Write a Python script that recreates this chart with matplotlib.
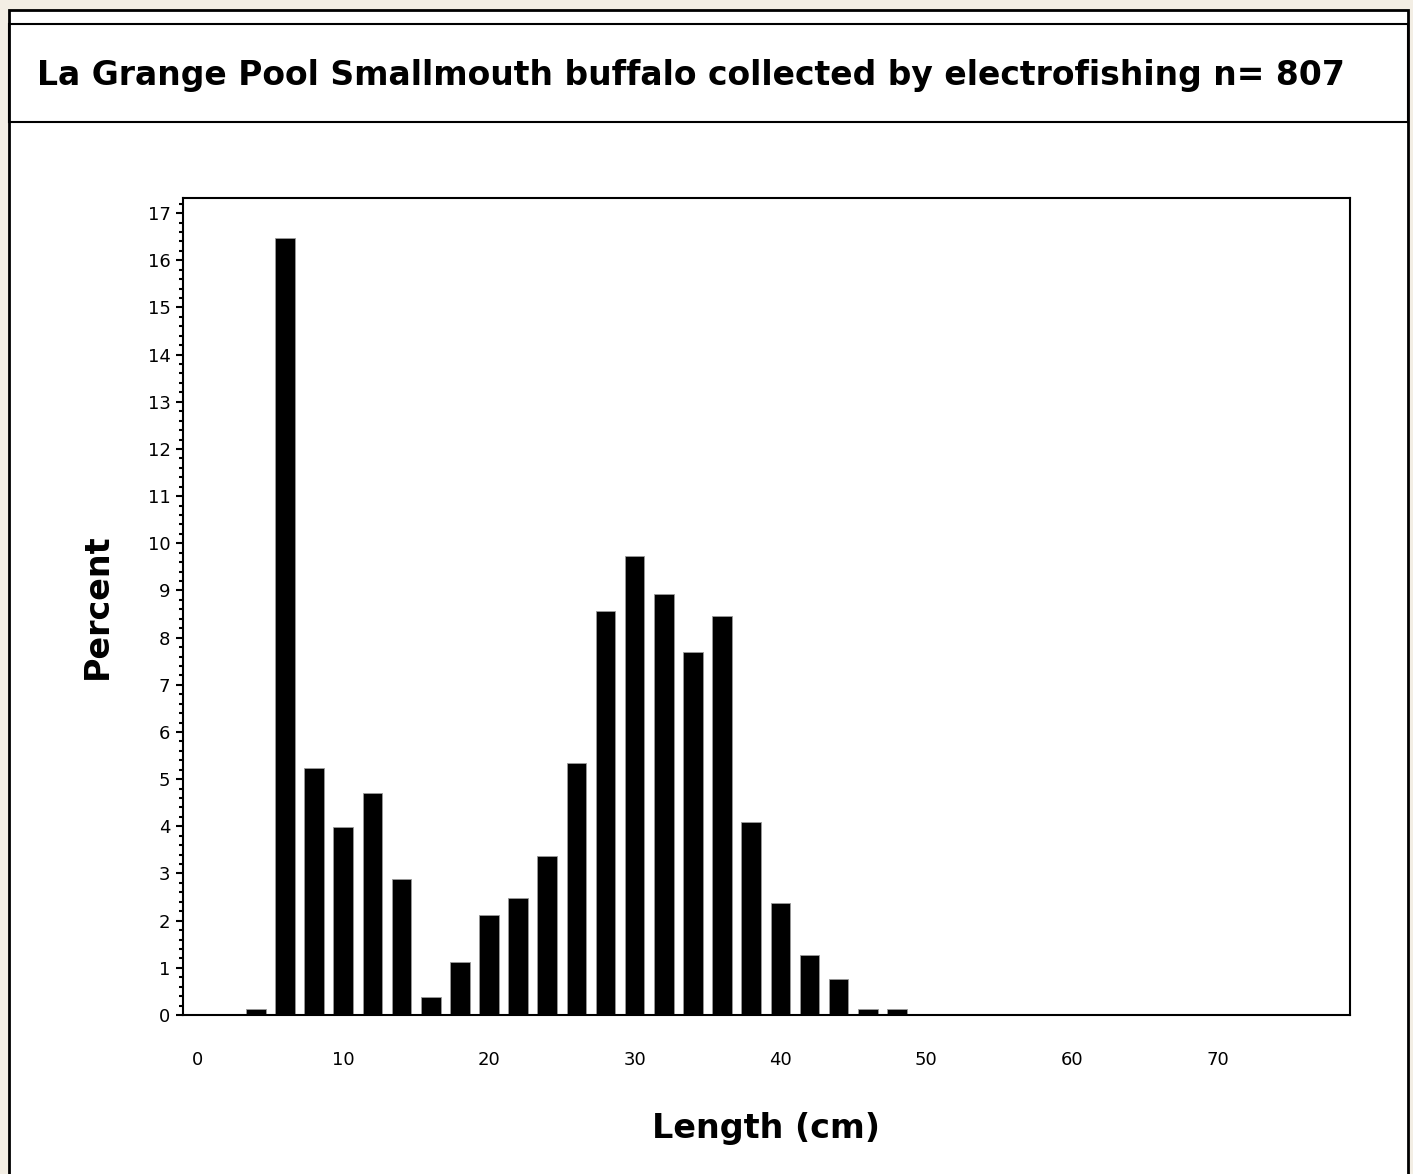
import matplotlib
matplotlib.use("Agg")
import matplotlib.pyplot as plt
from matplotlib.patches import Rectangle
from matplotlib.ticker import MultipleLocator

# Length-class midpoints (cm) and percent of fish in each class
lengths = [4, 6, 8, 10, 12, 14, 16, 18, 20, 22, 24, 26,
           28, 30, 32, 34, 36, 38, 40, 42, 44, 46, 48]
percent = [0.12, 16.48, 5.23, 3.98, 4.71, 2.89, 0.39, 1.12, 2.11, 2.48, 3.37, 5.34,
           8.56, 9.72, 8.93, 7.69, 8.46, 4.09, 2.38, 1.28, 0.77, 0.12, 0.12]
x_ticks = [0, 10, 20, 30, 40, 50, 60, 70]
y_ticks = list(range(0, 18))

title = "La Grange Pool Smallmouth buffalo collected by electrofishing n= 807"

W, H = 1413, 1174
plt.rcParams['font.family'] = ['DejaVu Sans']

fig = plt.figure(figsize=(W / 100, H / 100), dpi=100, facecolor='#f3eee4')


def fx(px):
    return px / W


def fy(py):
    return 1 - py / H


# white page with frame
fig.add_artist(Rectangle((fx(9), fy(H + 5)), fx(1408) - fx(9), fy(10) - fy(H + 5),
                         transform=fig.transFigure, facecolor='white',
                         edgecolor='black', linewidth=2, zorder=0))
# title box
fig.add_artist(Rectangle((fx(9), fy(122)), fx(1408) - fx(9), fy(24) - fy(122),
                         transform=fig.transFigure, facecolor='none',
                         edgecolor='black', linewidth=1.5, zorder=1))
fig.text(fx(37), fy(76), title, ha='left', va='center', fontsize=23.8, fontweight='bold')

ax = fig.add_axes([fx(183), fy(1015), fx(1350) - fx(183), fy(198) - fy(1015)])
ax.bar(lengths, percent, width=1.35, color='black', edgecolor='#9a9a9a', linewidth=0.6)

ax.set_xlim(-1.0, 79.1)
ax.set_ylim(0, 17.32)
ax.set_xticks(x_ticks)
ax.set_yticks(y_ticks)
ax.yaxis.set_minor_locator(MultipleLocator(0.2))
ax.tick_params(axis='x', length=0, pad=26, labelsize=13)
ax.tick_params(axis='y', which='major', length=5, width=1.5, direction='out', pad=4, labelsize=13)
ax.tick_params(axis='y', which='minor', length=3, width=1.5, direction='out')
for sp in ax.spines.values():
    sp.set_linewidth(1.5)

ax.set_xlabel('Length (cm)', fontsize=24, fontweight='bold', labelpad=31)
ax.set_ylabel('Percent', fontsize=24, fontweight='bold', labelpad=24)

fig.savefig('out.png', dpi=100, facecolor=fig.get_facecolor())
